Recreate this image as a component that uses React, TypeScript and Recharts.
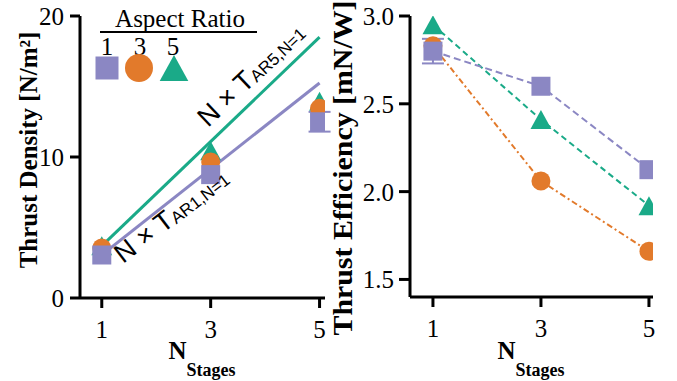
import { ErrorBar, Scatter, ScatterChart, XAxis, YAxis } from "recharts";
import { type JSX } from "react";

const nStages = [1, 3, 5];
const aspectRatios = [1, 3, 5];

const densityAR1 = [3.05, 8.75, 12.5];
const densityAR3 = [3.55, 9.65, 13.45];
const densityAR5 = [3.7, 10.45, 13.95];
const densityErrAR1 = [0, 0, 0.7];

const effAR1 = [2.8, 2.6, 2.125];
const effAR3 = [2.83, 2.06, 1.66];
const effAR5 = [2.95, 2.41, 1.92];
const effErrAR1 = [0.07, 0, 0];

const densityTicks = [0, 10, 20];
const effTicks = [1.5, 2.0, 2.5, 3.0];
const nTicks = [1, 3, 5];

const PURPLE = "#8b87c3";
const ORANGE = "#e27a2b";
const GREEN = "#1aaa88";
const SERIF = "'Liberation Serif', 'Times New Roman', serif";
const SANS = "'Liberation Sans', Arial, sans-serif";

const toRows = (ys: number[], errs?: number[]) =>
  nStages.map((n, i) => ({ n, y: ys[i], err: errs ? errs[i] : 0 }));

// N x T_{AR,N=1} ideal scaling lines, only the two end points are needed
const idealLine = (t: number) => [nStages[0], nStages[nStages.length - 1]].map((n) => ({ n, y: n * t }));

const Square = ({ cx, cy, s = 19 }: any) => (
  <rect x={cx - s / 2} y={cy - s / 2} width={s} height={s} fill={PURPLE} />
);
const Circle = ({ cx, cy, s = 19 }: any) => <circle cx={cx} cy={cy} r={s / 2} fill={ORANGE} />;
const Triangle = ({ cx, cy, s = 19 }: any) => (
  <polygon
    points={`${cx},${cy - s / 2} ${cx - s * 0.55},${cy + s / 2} ${cx + s * 0.55},${cy + s / 2}`}
    fill={GREEN}
  />
);
const squareShape = (p: any) => <Square cx={p.cx} cy={p.cy} />;
const circleShape = (p: any) => <Circle cx={p.cx} cy={p.cy} />;
const triangleShape = (p: any) => <Triangle cx={p.cx} cy={p.cy} />;

const tickStyle = { fontFamily: SERIF, fontSize: 25, fill: "#000" };
const axisLine = { stroke: "#000", strokeWidth: 3 };

const XTitle = ({ cx }: { cx: number }) => (
  <text x={cx} y={359} textAnchor="middle" fontFamily={SERIF} fontWeight="bold" fill="#000">
    <tspan fontSize={25}>N</tspan>
    <tspan fontSize={18} dy={17}>
      Stages
    </tspan>
  </text>
);

const AspectLegend = (): JSX.Element => (
  <g>
    <text x={180} y={27} textAnchor="middle" fontFamily={SERIF} fontSize={25} fill="#000">
      Aspect Ratio
    </text>
    <line x1={100} x2={257} y1={32} y2={32} stroke="#000" strokeWidth={2} />
    {aspectRatios.map((ar, i) => (
      <text key={ar} x={107 + i * 33} y={55} textAnchor="middle" fontFamily={SERIF} fontSize={25} fill="#000">
        {ar}
      </text>
    ))}
    <Square cx={107} cy={68} s={23} />
    <Circle cx={139} cy={68} s={28} />
    <Triangle cx={174} cy={68} s={26} />
  </g>
);

const DensityChart = (): JSX.Element => (
  <ScatterChart width={340} height={381} margin={{ top: 16, right: 15, left: 0, bottom: 0 }}>
    <XAxis
      type="number"
      dataKey="n"
      domain={[0.6, 5.1]}
      ticks={nTicks}
      allowDataOverflow
      height={83}
      tickSize={10}
      tickMargin={12}
      tick={tickStyle}
      axisLine={axisLine}
      tickLine={axisLine}
      label={{ content: () => <XTitle cx={202} /> }}
    />
    <YAxis
      type="number"
      dataKey="y"
      domain={[0, 20]}
      ticks={densityTicks}
      allowDataOverflow
      width={80}
      tickSize={10}
      tickMargin={6}
      tick={tickStyle}
      axisLine={axisLine}
      tickLine={axisLine}
      label={{
        content: () => (
          <text
            x={37}
            y={150}
            transform="rotate(-90 37 150)"
            textAnchor="middle"
            fontFamily={SERIF}
            fontWeight="bold"
            fontSize={25}
            fill="#000"
          >
            Thrust Density [N/m²]
          </text>
        ),
      }}
    />
    <Scatter
      data={idealLine(densityAR5[0])}
      line={{ stroke: GREEN, strokeWidth: 3 }}
      shape={() => <g />}
      isAnimationActive={false}
    />
    <Scatter
      data={idealLine(densityAR1[0])}
      line={{ stroke: PURPLE, strokeWidth: 3 }}
      shape={() => <g />}
      isAnimationActive={false}
    />
    <Scatter data={toRows(densityAR5)} shape={triangleShape} isAnimationActive={false} />
    <Scatter data={toRows(densityAR3)} shape={circleShape} isAnimationActive={false} />
    <Scatter data={toRows(densityAR1, densityErrAR1)} shape={squareShape} isAnimationActive={false}>
      <ErrorBar dataKey="err" direction="y" width={11} stroke={PURPLE} strokeWidth={2} />
    </Scatter>
  </ScatterChart>
);

const EfficiencyChart = (): JSX.Element => (
  <ScatterChart width={357} height={381} margin={{ top: 16, right: 24, left: 20, bottom: 0 }}>
    <XAxis
      type="number"
      dataKey="n"
      domain={[0.575, 5.075]}
      ticks={nTicks}
      allowDataOverflow
      height={84}
      tickSize={10}
      tickMargin={12}
      tick={tickStyle}
      axisLine={axisLine}
      tickLine={axisLine}
      label={{ content: () => <XTitle cx={211} /> }}
    />
    <YAxis
      type="number"
      dataKey="y"
      domain={[1.4, 3.0]}
      ticks={effTicks}
      allowDataOverflow
      width={70}
      tickSize={11}
      tickMargin={5}
      tick={tickStyle}
      tickFormatter={(v: number) => v.toFixed(1)}
      axisLine={axisLine}
      tickLine={axisLine}
      label={{
        content: () => (
          <text
            x={32}
            y={168}
            transform="rotate(-90 32 168)"
            textAnchor="middle"
            fontFamily={SERIF}
            fontWeight="bold"
            fontSize={27}
            fill="#000"
            textLength={335}
            lengthAdjust="spacingAndGlyphs"
          >
            Thrust Efficiency [mN/W]
          </text>
        ),
      }}
    />
    <Scatter
      data={toRows(effAR3)}
      line={{ stroke: ORANGE, strokeWidth: 2, strokeDasharray: "6 3 2 3" }}
      shape={circleShape}
      isAnimationActive={false}
    />
    <Scatter
      data={toRows(effAR5)}
      line={{ stroke: GREEN, strokeWidth: 2, strokeDasharray: "6 4" }}
      shape={triangleShape}
      isAnimationActive={false}
    />
    <Scatter
      data={toRows(effAR1, effErrAR1)}
      line={{ stroke: PURPLE, strokeWidth: 2, strokeDasharray: "7 4" }}
      shape={squareShape}
      isAnimationActive={false}
    >
      <ErrorBar dataKey="err" direction="y" width={11} stroke={PURPLE} strokeWidth={2} />
    </Scatter>
  </ScatterChart>
);

const IdealLabel = ({ x, y, angle, sub }: { x: number; y: number; angle: number; sub: string }) => (
  <text x={x} y={y} transform={`rotate(${angle} ${x} ${y})`} fontFamily={SANS} fill="#000">
    <tspan fontSize={27}>N × T</tspan>
    <tspan fontSize={17} dy={1}>
      {sub}
    </tspan>
  </text>
);

export default function App(): JSX.Element {
  return (
    <div style={{ position: "absolute", left: 0, top: 0, width: 677, height: 381, background: "#fff" }}>
      <div style={{ position: "absolute", left: 0, top: 0 }}>
        <DensityChart />
      </div>
      <div style={{ position: "absolute", left: 320, top: 0 }}>
        <EfficiencyChart />
      </div>
      <svg width={340} height={381} style={{ position: "absolute", left: 0, top: 0, pointerEvents: "none" }}>
        <AspectLegend />
        <IdealLabel x={208} y={128} angle={-43.5} sub="AR5,N=1" />
        <IdealLabel x={123} y={264} angle={-37.5} sub="AR1,N=1" />
      </svg>
    </div>
  );
}
